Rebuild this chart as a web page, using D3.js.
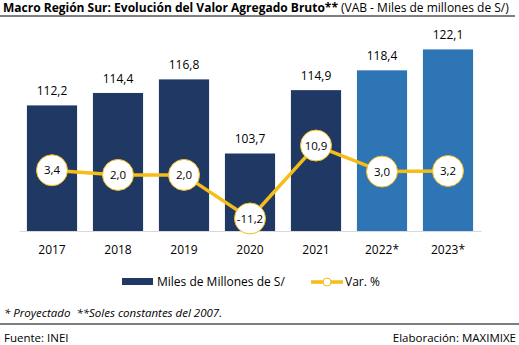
<!DOCTYPE html>
<html>
<head>
<meta charset="utf-8">
<script src="https://cdn.jsdelivr.net/npm/d3@7"></script>
<style>
  body { margin: 0; background: #fff; }
  svg { font-family: "Open Sans", "Liberation Sans", sans-serif; }
</style>
</head>
<body>
<div id="chart"></div>
<script>
// VAB por año (miles de millones de S/) y variación porcentual
const years = ['2017', '2018', '2019', '2020', '2021', '2022*', '2023*'];
const vab = [112.2, 114.4, 116.8, 103.7, 114.9, 118.4, 122.1];
const varPct = [3.4, 2.0, 2.0, -11.2, 10.9, 3.0, 3.2];
const projected = [false, false, false, false, false, true, true];

const width = 519, height = 345;
const margin = { top: 33, right: 38, bottom: 114, left: 19 };
const innerWidth = width - margin.left - margin.right,
      innerHeight = height - margin.top - margin.bottom;

const navy = '#1f3864', blue = '#2e75b6', gold = '#f5bd17';
const fmt = v => d3.format('.1f')(v).replace('.', ',').replace('\u2212', '-');

const svg = d3.select('#chart')
  .append('svg')
  .attr('width', width)
  .attr('height', height);

// title
const title = svg.append('text')
  .attr('x', 3)
  .attr('y', 12)
  .style('font-size', '12px');
title.append('tspan')
  .style('font-weight', 'bold')
  .text('Macro Región Sur: Evolución del Valor Agregado Bruto**');
title.append('tspan')
  .attr('dx', 3)
  .style('font-size', '12px')
  .text('(VAB - Miles de millones de S/)');

svg.append('line')
  .attr('x1', 0).attr('x2', 515)
  .attr('y1', 16).attr('y2', 16)
  .style('stroke', '#000')
  .style('stroke-width', 1.2);

// scales
const xScale = d3.scaleBand()
  .domain(years)
  .range([0, innerWidth])
  .paddingInner(0.24)
  .paddingOuter(0.12);

const yScale = d3.scaleLinear()
  .domain([90, 125])
  .range([innerHeight, 0]);

const y2Scale = d3.scaleLinear()
  .domain([-15, 45])
  .range([innerHeight, 0]);

const g = svg.append('g')
  .attr('transform', `translate(${margin.left},${margin.top})`);

// bars
g.selectAll('rect.bar')
  .data(vab)
  .enter()
  .append('rect')
  .attr('class', 'bar')
  .attr('x', (d, i) => xScale(years[i]))
  .attr('y', d => yScale(d))
  .attr('width', xScale.bandwidth())
  .attr('height', d => innerHeight - yScale(d))
  .attr('fill', (d, i) => projected[i] ? blue : navy);

// bar value labels
g.selectAll('text.bar-label')
  .data(vab)
  .enter()
  .append('text')
  .attr('class', 'bar-label')
  .attr('x', (d, i) => xScale(years[i]) + xScale.bandwidth() / 2)
  .attr('y', d => yScale(d) - 10)
  .attr('text-anchor', 'middle')
  .style('font-size', '12px')
  .style('fill', '#000')
  .text(d => fmt(d));

// x axis
const xAxis = d3.axisBottom(xScale)
  .tickSizeInner(0)
  .tickSizeOuter(0)
  .tickPadding(14);

const ax = g.append('g')
  .attr('class', 'x axis')
  .attr('transform', `translate(0,${innerHeight})`)
  .call(xAxis);
ax.select('.domain')
  .style('stroke', '#d9d9d9')
  .style('stroke-width', 1);
ax.selectAll('text')
  .style('font-size', '12px')
  .style('font-family', '"Open Sans", "Liberation Sans", sans-serif')
  .style('fill', '#000');

// variation line
const cx = (d, i) => xScale(years[i]) + xScale.bandwidth() / 2;
const line = d3.line()
  .x(cx)
  .y(d => y2Scale(d));

g.append('path')
  .datum(varPct)
  .attr('d', line)
  .style('fill', 'none')
  .style('stroke', gold)
  .style('stroke-width', 3.5);

g.selectAll('circle.var')
  .data(varPct)
  .enter()
  .append('circle')
  .attr('class', 'var')
  .attr('cx', cx)
  .attr('cy', d => y2Scale(d))
  .attr('r', 15.5)
  .style('fill', '#fff')
  .style('stroke', gold)
  .style('stroke-width', 1);

g.selectAll('text.var-label')
  .data(varPct)
  .enter()
  .append('text')
  .attr('class', 'var-label')
  .attr('x', cx)
  .attr('y', d => y2Scale(d))
  .attr('dy', '0.36em')
  .attr('text-anchor', 'middle')
  .style('font-size', '11.5px')
  .style('fill', '#000')
  .text(d => fmt(d));

// legend
const legend = svg.append('g')
  .attr('transform', 'translate(0,282)');

legend.append('rect')
  .attr('x', 122).attr('y', -4)
  .attr('width', 31).attr('height', 7)
  .attr('fill', navy);
legend.append('text')
  .attr('x', 157).attr('y', 0)
  .attr('dy', '0.36em')
  .style('font-size', '12px')
  .text('Miles de Millones de S/');

legend.append('line')
  .attr('x1', 311).attr('x2', 343)
  .attr('y1', 0).attr('y2', 0)
  .style('stroke', gold)
  .style('stroke-width', 3.5);
legend.append('circle')
  .attr('cx', 327).attr('cy', 0)
  .attr('r', 4)
  .style('fill', '#fff')
  .style('stroke', gold)
  .style('stroke-width', 1);
legend.append('text')
  .attr('x', 345).attr('y', 0)
  .attr('dy', '0.36em')
  .style('font-size', '12px')
  .text('Var. %');

// notes and source
svg.append('text')
  .attr('x', 4).attr('y', 317)
  .style('font-size', '11.5px')
  .style('font-style', 'italic')
  .style('white-space', 'pre')
  .text('* Proyectado  **Soles constantes del 2007.');

svg.append('line')
  .attr('x1', 0).attr('x2', width)
  .attr('y1', 324).attr('y2', 324)
  .style('stroke', '#7f7f7f')
  .style('stroke-width', 2);

svg.append('text')
  .attr('x', 4).attr('y', 342)
  .style('font-size', '11.5px')
  .text('Fuente: INEI');

svg.append('text')
  .attr('x', 516).attr('y', 342)
  .attr('text-anchor', 'end')
  .style('font-size', '11.5px')
  .text('Elaboración: MAXIMIXE');
</script>
</body>
</html>
